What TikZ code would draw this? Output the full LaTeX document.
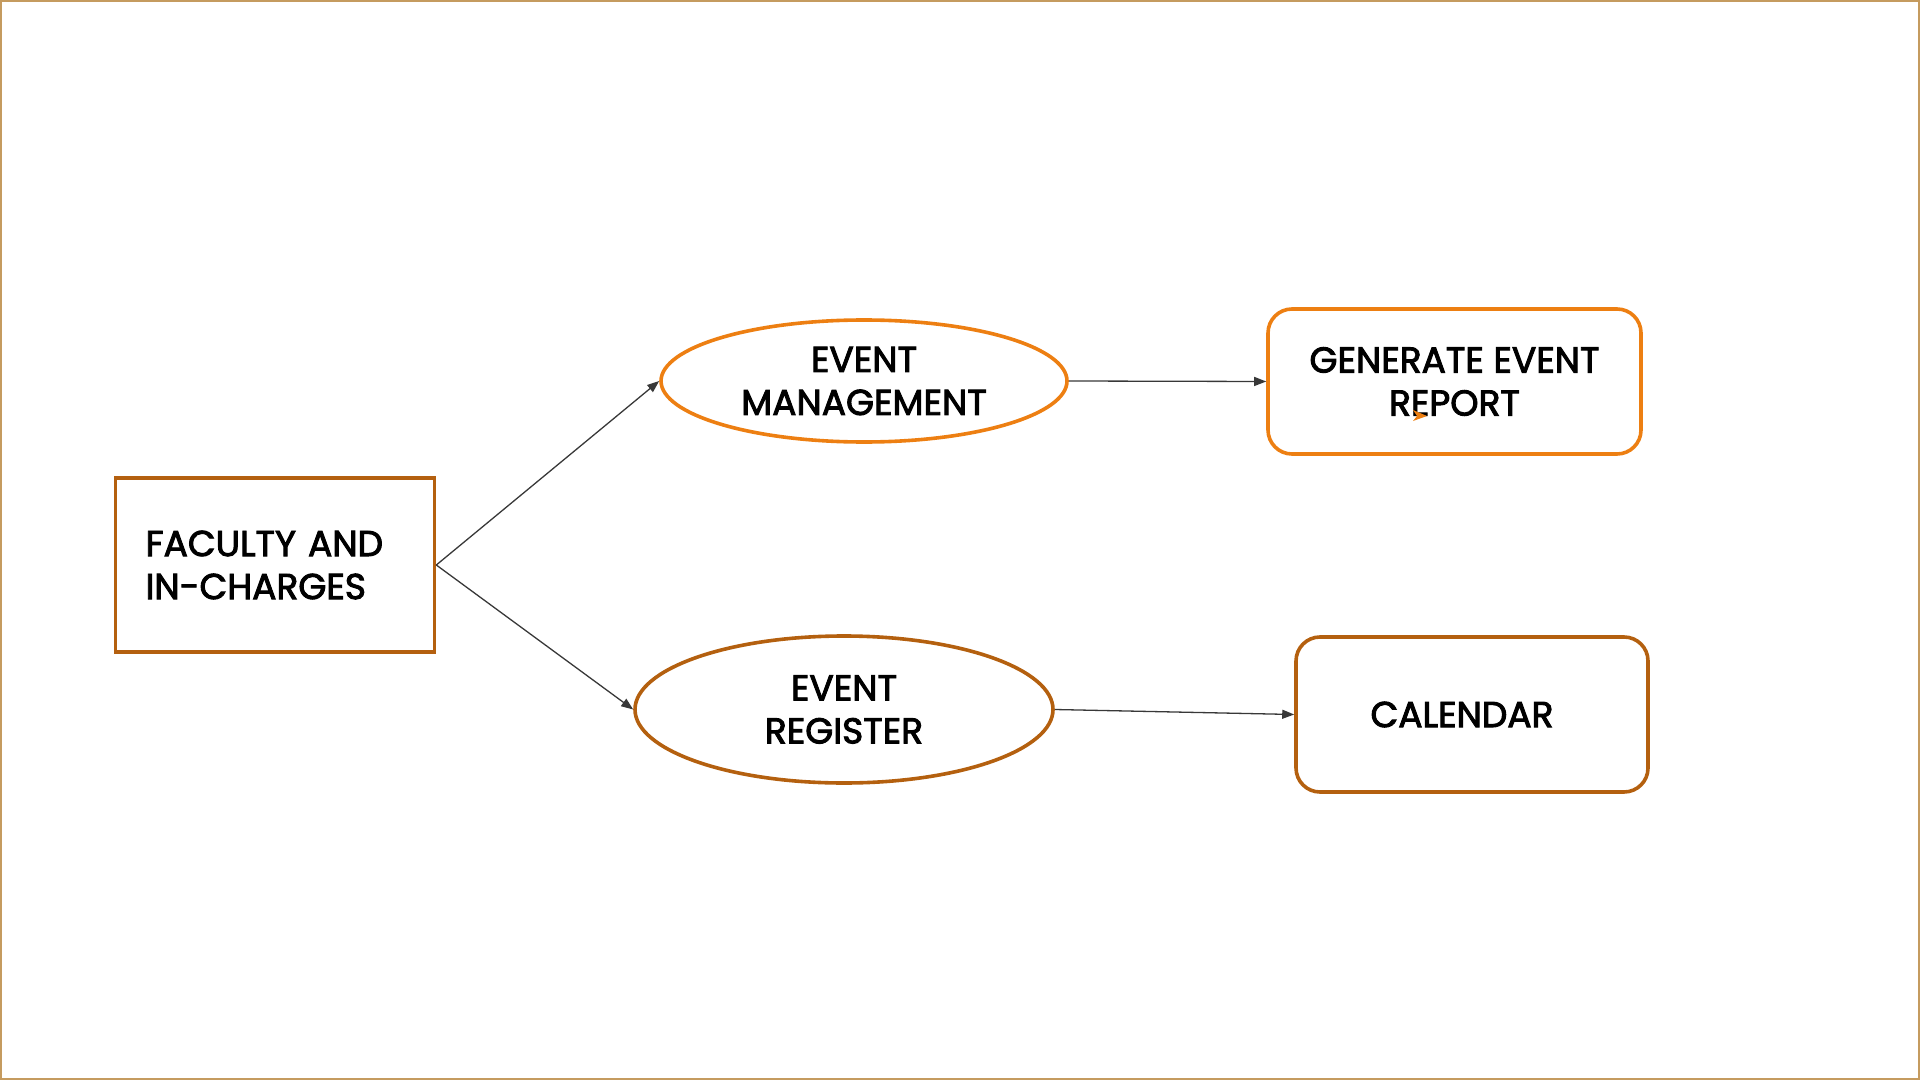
\documentclass[tikz,border=0pt]{standalone}
\usepackage{fontspec}
\setmainfont{Poppins}
\newfontfamily\lblfont{Poppins}[FakeBold=2.6]
\usetikzlibrary{shapes.geometric,arrows.meta}
\definecolor{frametan}{HTML}{C59B5F}
\definecolor{orangec}{HTML}{ED7F12}
\definecolor{brownc}{HTML}{B4600F}
\definecolor{linec}{HTML}{383838}
\begin{document}
\begin{tikzpicture}[x=0.5pt,y=-0.5pt,
  lbl/.style={font=\lblfont\fontsize{18}{21.5}\selectfont, text=black},
  shapeline/.style={line width=1.8pt},
  sqbox/.style={lbl, shapeline, draw=brownc, rectangle, inner xsep=15pt, inner ysep=0pt, align=left},
  ovalbox/.style={lbl, shapeline, ellipse, inner sep=0pt, align=center},
  rndbox/.style={lbl, shapeline, rectangle, rounded corners=12pt, align=center},
  conn/.style={draw=linec, line width=0.65pt, -{Triangle[length=6pt,width=4.5pt]}}]
\useasboundingbox (0,0) rectangle (1920,1080);
\draw[frametan, line width=1pt] (1,1) rectangle (1919,1079);

\node[sqbox, minimum width=159.5pt, minimum height=87pt, text width=129.5pt] (fac) at (275,565) {FACULTY AND\\IN-CHARGES};
\node[ovalbox, draw=orangec, minimum width=203pt, minimum height=61pt] (em) at (864,381) {EVENT\\MANAGEMENT};
\node[ovalbox, draw=brownc, minimum width=209pt, minimum height=73.5pt] (er) at (844,709.5) {EVENT\\REGISTER};
\node[rndbox, draw=orangec, minimum width=186.5pt, minimum height=72.5pt] (ger) at (1454.5,381.5) {GENERATE EVENT\\REPORT};
\node[rndbox, draw=brownc, minimum width=176pt, minimum height=77.5pt] (cal) at (1472,714.5) {CALENDAR\hspace*{10pt}};

\draw[conn] (fac.east) -- (em.west);
\draw[conn] (fac.east) -- (er.west);
\draw[conn] (em.east) -- (ger.west);
\draw[conn] (er.east) -- (cal.west);

\fill[orangec] (1413,410) -- (1427,416) -- (1413,421) -- (1417,416) -- cycle;
\end{tikzpicture}
\end{document}
